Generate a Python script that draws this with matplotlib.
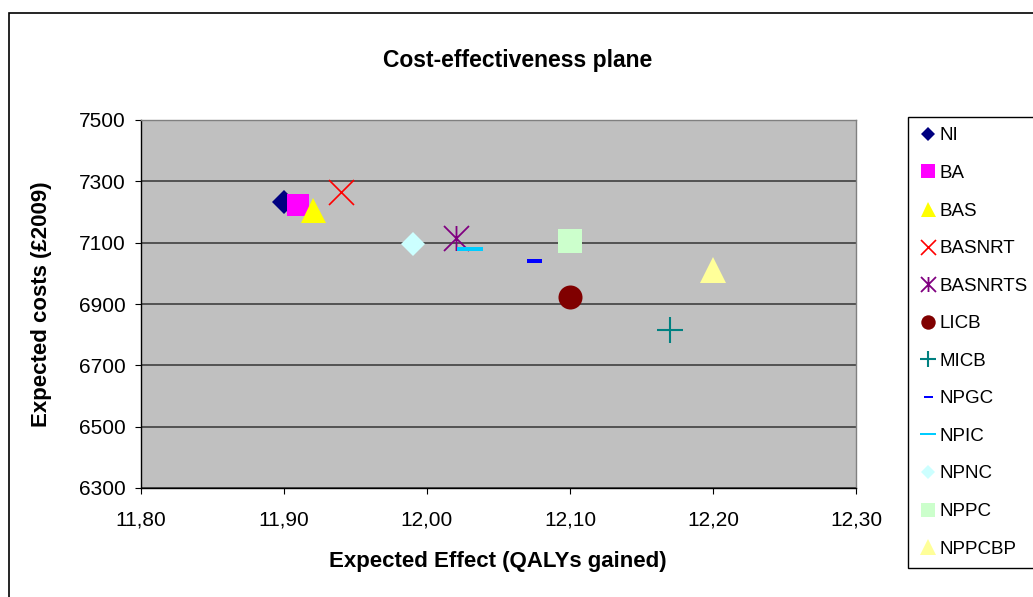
import matplotlib
matplotlib.use("Agg")
import matplotlib.pyplot as plt
from matplotlib.path import Path
from matplotlib.patches import Rectangle
from matplotlib.ticker import FuncFormatter

plt.rcParams["font.family"] = ["Liberation Sans", "DejaVu Sans"]

# Strategy results: expected effect (QALYs) and expected cost (GBP 2009)
strategies = ["NI", "BA", "BAS", "BASNRT", "BASNRTS", "LICB", "MICB",
              "NPGC", "NPIC", "NPNC", "NPPC", "NPPCBP"]
effects = [11.90, 11.91, 11.92, 11.94, 12.02, 12.10, 12.17,
           12.075, 12.03, 11.99, 12.10, 12.20]
costs = [7233, 7223, 7208, 7266, 7116, 6924, 6815,
         7040, 7079, 7096, 7105, 7011]

x_ticks = [11.80, 11.90, 12.00, 12.10, 12.20, 12.30]
y_ticks = [6300, 6500, 6700, 6900, 7100, 7300, 7500]

# Marker shapes
asterisk = Path([(-1, -1), (1, 1), (-1, 1), (1, -1), (0, -1), (0, 1)],
                [Path.MOVETO, Path.LINETO, Path.MOVETO, Path.LINETO,
                 Path.MOVETO, Path.LINETO])
def dash(ratio):
    return Path([(-1, -ratio), (1, -ratio), (1, ratio), (-1, ratio), (-1, -ratio)],
                [Path.MOVETO, Path.LINETO, Path.LINETO, Path.LINETO, Path.CLOSEPOLY])

styles = {
    "NI":      dict(marker="D", ms=12, color="#000080"),
    "BA":      dict(marker="s", ms=16.5, color="#FF00FF"),
    "BAS":     dict(marker="^", ms=18, color="#FFFF00"),
    "BASNRT":  dict(marker="x", ms=18, color="#FF0000", mew=1.2),
    "BASNRTS": dict(marker=asterisk, ms=18, color="#800080", mew=1.3),
    "LICB":    dict(marker="o", ms=17.3, color="#800000"),
    "MICB":    dict(marker="+", ms=18.7, color="#008080", mew=1.5),
    "NPGC":    dict(marker=dash(0.27), ms=10.8, color="#0000FF"),
    "NPIC":    dict(marker=dash(0.15), ms=18.7, color="#00CCFF"),
    "NPNC":    dict(marker="D", ms=12.5, color="#CCFFFF"),
    "NPPC":    dict(marker="s", ms=17, color="#CCFFCC"),
    "NPPCBP":  dict(marker="^", ms=18.5, color="#FFFF99"),
}
line_markers = {"BASNRT", "BASNRTS", "MICB"}

W, H = 1033, 597
fig = plt.figure(figsize=(W / 100, H / 100), dpi=100)
ax = fig.add_axes([141 / W, 1 - 488 / H, (856 - 141) / W, (488 - 120) / H])
ax.set_facecolor("#C0C0C0")

for name, x, y in zip(strategies, effects, costs):
    st = styles[name]
    if name in line_markers:
        ax.plot([x], [y], linestyle="none", marker=st["marker"], ms=st["ms"],
                mec=st["color"], mfc="none", mew=st["mew"], label=name,
                clip_on=False, zorder=3)
    else:
        ax.plot([x], [y], linestyle="none", marker=st["marker"], ms=st["ms"],
                mfc=st["color"], mec=st["color"], mew=0, label=name,
                clip_on=False, zorder=3)

ax.set_xlim(x_ticks[0], x_ticks[-1])
ax.set_ylim(y_ticks[0], y_ticks[-1])
ax.set_xticks(x_ticks)
ax.set_yticks(y_ticks)
ax.xaxis.set_major_formatter(FuncFormatter(lambda v, p: f"{v:.2f}".replace(".", ",")))
ax.yaxis.set_major_formatter(FuncFormatter(lambda v, p: f"{v:.0f}"))
ax.tick_params(axis="both", direction="out", length=4.3, width=0.8,
               color="black", labelsize=15)
ax.tick_params(axis="y", pad=7)
ax.tick_params(axis="x", pad=12)

ax.yaxis.grid(True, color="#404040", linewidth=1.2)
ax.set_axisbelow(True)
for side in ("left", "bottom"):
    ax.spines[side].set_color("black")
    ax.spines[side].set_linewidth(1)
for side in ("top", "right"):
    ax.spines[side].set_color("#808080")
    ax.spines[side].set_linewidth(1)

fig.text(518 / W, 1 - 60 / H, "Cost-effectiveness plane", ha="center", va="center",
         fontsize=16.5, fontweight="bold")
fig.text(498 / W, 1 - 562 / H, "Expected Effect (QALYs gained)", ha="center",
         va="center", fontsize=16, fontweight="bold")
fig.text(42 / W, 1 - 304 / H, "Expected costs (£2009)", ha="center", va="center",
         rotation=90, fontsize=16, fontweight="bold")

leg = fig.legend(loc="upper left", bbox_to_anchor=(908 / W, 1 - 117 / H),
                 bbox_transform=fig.transFigure, borderaxespad=0, fontsize=13.5,
                 markerscale=0.6, frameon=True, fancybox=False,
                 edgecolor="black", framealpha=1, handlelength=1.0,
                 handletextpad=0.15, labelspacing=1.09, borderpad=0.55,
                 numpoints=1)
leg.get_frame().set_linewidth(1)

# Chart-area border
fig.patches.append(Rectangle((9 / W, -0.1), 1.1, 1 - 13 / H + 0.1,
                             transform=fig.transFigure, fill=False,
                             edgecolor="black", linewidth=1.2, zorder=0))

fig.savefig("out.png", dpi=100)
